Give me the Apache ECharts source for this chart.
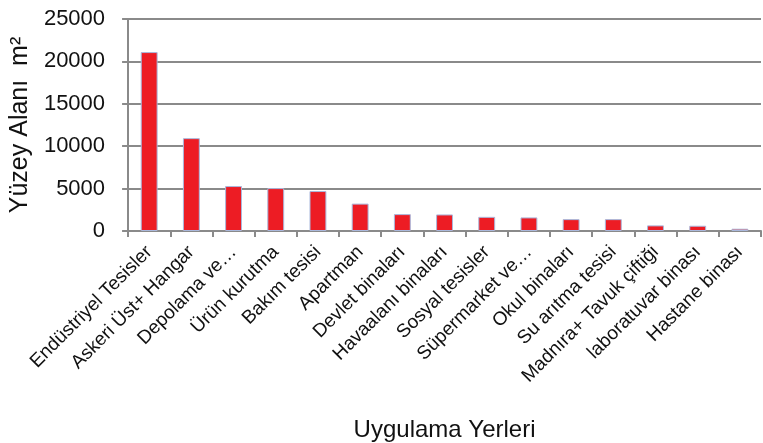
<!DOCTYPE html>
<html>
<head>
<meta charset="utf-8">
<script src="https://cdn.jsdelivr.net/npm/echarts@6/dist/echarts.min.js"></script>
<style>
  html, body { margin: 0; padding: 0; background: #fff; }
  #chart { width: 763px; height: 443px; }
</style>
</head>
<body>
<div id="chart"></div>
<script>
// Application sites (x categories)
const categories = [
  'Endüstriyel Tesisler', 'Askeri Üst+ Hangar', 'Depolama ve…', 'Ürün kurutma',
  'Bakım tesisi', 'Apartman', 'Devlet binaları', 'Havaalanı binaları',
  'Sosyal tesisler', 'Süpermarket ve…', 'Okul binaları', 'Su arıtma tesisi',
  'Madnıra+ Tavuk çiftiği', 'laboratuvar binası', 'Hastane binası'
];

// Surface area per site, m²
const surfaceArea = [21100, 10950, 5300, 5060, 4710, 3230, 1990, 1950,
                     1670, 1600, 1400, 1400, 660, 620, 270];

// Y axis scale
const yMin = 0, yMax = 25000, yStep = 5000;

const axisGray = '#8a8a8a';
const font = 'Liberation Sans, Arial, sans-serif';

const chart = echarts.init(document.getElementById('chart'), null, { renderer: 'canvas' });
chart.setOption({
  animation: false,
  backgroundColor: '#ffffff',
  grid: { left: 128, right: 2, top: 19, bottom: 210, containLabel: false },
  xAxis: {
    type: 'category',
    data: categories,
    name: 'Uygulama Yerleri',
    nameLocation: 'middle',
    nameGap: 187,
    nameTextStyle: { fontFamily: font, fontSize: 24, color: '#111' },
    axisLine: { lineStyle: { color: axisGray, width: 2 } },
    axisTick: { show: true, length: 6, alignWithLabel: false, lineStyle: { color: axisGray, width: 2 } },
    axisLabel: {
      interval: 0, rotate: 45, margin: 18,
      fontFamily: font, fontSize: 19, color: '#111'
    }
  },
  yAxis: {
    type: 'value',
    min: yMin, max: yMax, interval: yStep,
    name: 'Yüzey Alanı  m²',
    nameLocation: 'middle',
    nameGap: 89,
    nameRotate: 90,
    nameTextStyle: { fontFamily: font, fontSize: 25, color: '#111' },
    axisLine: { show: true, lineStyle: { color: axisGray, width: 2 } },
    axisTick: { show: true, length: 6, lineStyle: { color: axisGray, width: 2 } },
    axisLabel: {
      margin: 23, fontFamily: font, fontSize: 22, color: '#111',
      formatter: v => String(v)
    },
    splitLine: { show: true, lineStyle: { color: axisGray, width: 2 } }
  },
  series: [{
    type: 'bar',
    data: surfaceArea,
    barWidth: '40%',
    itemStyle: { color: '#ED1C24', borderColor: '#a9b8dc', borderWidth: 1 }
  }]
});
</script>
</body>
</html>
